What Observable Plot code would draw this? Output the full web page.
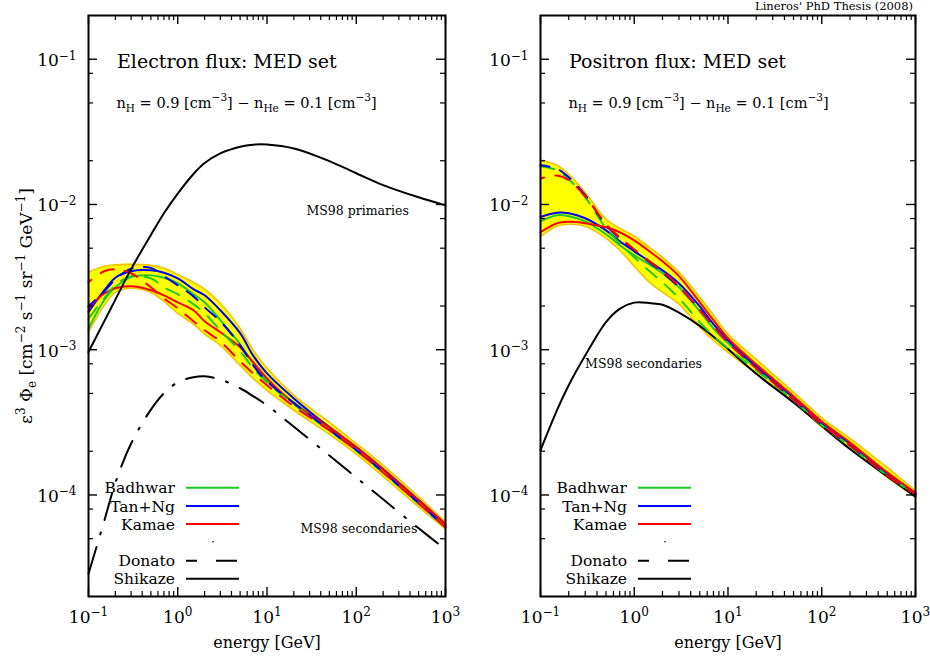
<!DOCTYPE html>
<html><head><meta charset="utf-8">
<script src="https://cdn.jsdelivr.net/npm/d3@7"></script>
<script src="https://cdn.jsdelivr.net/npm/@observablehq/plot@0.6"></script>
<style>
body{margin:0;background:#fff;}
#wrap{position:relative;width:930px;height:657px;font-family:"DejaVu Serif",serif;background:#fff;}
#wrap svg{position:absolute;top:0;}
</style></head><body><div id="wrap"></div>
<script>
// ---------- data (energy grid in GeV, fluxes E^3*Phi) ----------
const energy = [0.1,0.15,0.2,0.3,0.5,0.7,1,1.5,2,3,5,7,10,20,50,100,200,500,1000];

// Electron panel
const eBandHi = [3.41e-3,3.75e-3,3.84e-3,3.87e-3,3.81e-3,3.64e-3,3.30e-3,2.91e-3,2.61e-3,2.09e-3,1.40e-3,9.9e-4,7.45e-4,4.85e-4,3.16e-4,2.26e-4,1.60e-4,9.7e-5,6.53e-5];
const eBandLo = [1.32e-3,2.02e-3,2.48e-3,2.65e-3,2.48e-3,2.15e-3,1.78e-3,1.50e-3,1.28e-3,1.07e-3,7.8e-4,6.35e-4,5.25e-4,3.83e-4,2.61e-4,1.91e-4,1.34e-4,8.28e-5,5.83e-5];
const eBadhwarShikaze = [1.40e-3,2.19e-3,2.69e-3,3.16e-3,3.25e-3,3.13e-3,2.87e-3,2.41e-3,2.12e-3,1.60e-3,1.09e-3,8.05e-4,6.15e-4,4.34e-4,2.89e-4,2.11e-4,1.49e-4,9.1e-5,6.22e-5];
const eTanNgShikaze = [1.82e-3,2.56e-3,3.13e-3,3.47e-3,3.52e-3,3.39e-3,3.10e-3,2.61e-3,2.37e-3,1.87e-3,1.30e-3,9.1e-4,6.87e-4,4.62e-4,2.93e-4,2.14e-4,1.51e-4,9.22e-5,6.3e-5];
const eKamaeShikaze = [1.93e-3,2.44e-3,2.65e-3,2.73e-3,2.57e-3,2.37e-3,2.12e-3,1.87e-3,1.57e-3,1.32e-3,1.04e-3,8.2e-4,6.35e-4,4.28e-4,2.92e-4,2.13e-4,1.50e-4,9.18e-5,6.27e-5];
const eBadhwarDonato = [1.64e-3,2.26e-3,2.78e-3,3.21e-3,3.10e-3,2.69e-3,2.41e-3,2.06e-3,1.78e-3,1.36e-3,9.75e-4,7.45e-4,5.97e-4,4.21e-4,2.77e-4,2.02e-4,1.42e-4,8.7e-5,5.95e-5];
const eTanNgDonato = [1.99e-3,2.52e-3,3.05e-3,3.61e-3,3.66e-3,3.21e-3,2.78e-3,2.33e-3,1.96e-3,1.57e-3,1.07e-3,7.8e-4,6.05e-4,4.28e-4,2.80e-4,2.04e-4,1.44e-4,8.8e-5,6.0e-5];
const eKamaeDonato = [2.92e-3,3.47e-3,3.58e-3,3.36e-3,2.69e-3,2.26e-3,1.93e-3,1.57e-3,1.36e-3,1.14e-3,8.3e-4,6.87e-4,5.69e-4,4.07e-4,2.79e-4,2.03e-4,1.43e-4,8.75e-5,5.98e-5];
const eMS98Primaries = [9.64e-4,1.567e-3,2.213e-3,3.589e-3,6.166e-3,8.71e-3,1.189e-2,1.622e-2,1.928e-2,2.249e-2,2.50e-2,2.582e-2,2.588e-2,2.43e-2,1.99e-2,1.64e-2,1.36e-2,1.12e-2,9.86e-3];
const eMS98Secondaries = [2.87e-5,6.62e-5,1.21e-4,2.26e-4,3.87e-4,5.01e-4,5.96e-4,6.46e-4,6.56e-4,6.24e-4,5.43e-4,4.79e-4,4.14e-4,2.95e-4,1.87e-4,1.32e-4,9.33e-5,5.90e-5,4.22e-5];

// Positron panel
const pBandHi = [2.02e-2,1.86e-2,1.61e-2,1.21e-2,7.91e-3,6.86e-3,6.04e-3,4.99e-3,4.33e-3,3.41e-3,2.30e-3,1.73e-3,1.28e-3,8.59e-4,5.10e-4,3.40e-4,2.45e-4,1.54e-4,1.07e-4];
const pBandLo = [6.04e-3,7.08e-3,7.31e-3,7.08e-3,5.85e-3,4.84e-3,3.75e-3,2.86e-3,2.49e-3,2.06e-3,1.43e-3,1.16e-3,9.60e-4,6.87e-4,4.40e-4,2.94e-4,2.12e-4,1.32e-4,9.65e-5];
const pBadhwarShikaze = [7.66e-3,8.43e-3,8.30e-3,7.66e-3,6.24e-3,5.24e-3,4.47e-3,3.81e-3,3.36e-3,2.69e-3,1.84e-3,1.40e-3,1.11e-3,7.45e-4,4.62e-4,3.11e-4,2.23e-4,1.39e-4,1.01e-4];
const pTanNgShikaze = [8.20e-3,8.77e-3,8.69e-3,8.04e-3,6.64e-3,5.58e-3,4.76e-3,4.00e-3,3.52e-3,2.86e-3,1.99e-3,1.50e-3,1.16e-3,7.68e-4,4.70e-4,3.16e-4,2.26e-4,1.41e-4,1.03e-4];
const pKamaeShikaze = [6.44e-3,7.43e-3,7.60e-3,7.43e-3,6.97e-3,6.44e-3,5.66e-3,4.69e-3,4.06e-3,3.21e-3,2.12e-3,1.60e-3,1.20e-3,7.93e-4,4.78e-4,3.21e-4,2.30e-4,1.43e-4,1.03e-4];
const pBadhwarDonato = [1.83e-2,1.72e-2,1.49e-2,1.12e-2,6.86e-3,5.41e-3,4.33e-3,3.41e-3,2.91e-3,2.26e-3,1.55e-3,1.24e-3,1.02e-3,7.22e-4,4.49e-4,3.01e-4,2.16e-4,1.36e-4,1.01e-4];
const pTanNgDonato = [1.86e-2,1.76e-2,1.54e-2,1.16e-2,7.19e-3,5.85e-3,4.84e-3,3.94e-3,3.41e-3,2.69e-3,1.90e-3,1.47e-3,1.14e-3,7.56e-4,4.52e-4,3.04e-4,2.19e-4,1.36e-4,1.01e-4];
const pKamaeDonato = [1.51e-2,1.58e-2,1.47e-2,1.14e-2,7.31e-3,5.94e-3,4.91e-3,4.00e-3,3.47e-3,2.73e-3,1.87e-3,1.45e-3,1.12e-3,7.45e-4,4.55e-4,3.06e-4,2.20e-4,1.36e-4,1.01e-4];
const pMS98Secondaries = [2.03e-4,3.84e-4,5.70e-4,9.12e-4,1.55e-3,1.91e-3,2.11e-3,2.09e-3,2.04e-3,1.80e-3,1.46e-3,1.23e-3,1.01e-3,6.83e-4,4.33e-4,2.99e-4,2.07e-4,1.34e-4,9.72e-5];

// Axis ticks
const xMajor = [0.1,1,10,100,1000];
const xMinorMult = [2,3,4,5,6,7,8,9];
const yMajor = [1e-4,1e-3,1e-2,1e-1];
const yMinorMult = [2,5,8];

// Legend
const xsecNames = ["Badhwar","Tan+Ng","Kamae"];
const xsecColors = ["#1ec81e","#0000ff","#ff0000"];
const protonNames = ["Donato","Shikaze"];

// Texts
const leftNotes = [{E: 27.7, f: 8.97e-3, label: "MS98 primaries"}, {E: 23.7, f: 5.80e-5, label: "MS98 secondaries"}];
const rightNotes = [{E: 0.299, f: 7.93e-4, label: "MS98 secondaries"}];

// ---------- drawing ----------
const H = 657, MT = 15, MB = 61;
const xMinor = [];
for (const d of [0.1,1,10,100]) for (const m of xMinorMult) xMinor.push(d*m);
const yMinor = [];
for (const d of [1e-5,1e-4,1e-3,1e-2,1e-1]) for (const m of yMinorMult) { const v = d*m; if (v > 2.001e-5 && v < 0.1999) yMinor.push(v); }
const expFmt = d => String(Math.round(Math.log10(d))).replace("-", "\u2212");
const rows = arr => energy.map((E, i) => ({E, f: arr[i]}));

function panel({width, ml, mr, bandHi, bandLo, solids, dashes, ms, msDash, msOnTop, extra, title, notes}) {
  const W = width - ml - mr, PH = H - MT - MB;
  const band = energy.map((E, i) => ({E, lo: bandLo[i], hi: bandHi[i]}));
  const cv = "catmull-rom";
  const msMark = Plot.line(rows(ms), {x: "E", y: "f", stroke: "black", strokeWidth: 2, curve: cv, strokeDasharray: msDash});
  const marks = [
    Plot.areaY(band, {x: "E", y1: "lo", y2: "hi", fill: "#ffff00", curve: cv}),
    Plot.line(band, {x: "E", y: "hi", stroke: "#f0c400", strokeWidth: 1.6, curve: cv}),
    Plot.line(band, {x: "E", y: "lo", stroke: "#f0c400", strokeWidth: 1.6, curve: cv}),
  ];
  if (!msOnTop) marks.push(msMark);
  solids.forEach((arr, i) => marks.push(Plot.line(rows(arr), {x: "E", y: "f", stroke: xsecColors[i], strokeWidth: 2, curve: cv})));
  dashes.forEach((arr, i) => marks.push(Plot.line(rows(arr), {x: "E", y: "f", stroke: xsecColors[i], strokeWidth: 2, curve: cv, strokeDasharray: "14,11", strokeDashoffset: i * 5})));
  if (msOnTop) marks.push(msMark);
  if (extra) marks.push(Plot.line(rows(extra), {x: "E", y: "f", stroke: "black", strokeWidth: 2, curve: cv}));
  marks.push(
    Plot.frame({stroke: "black", strokeWidth: 2}),
    Plot.tickX(xMajor, {x: d => d, insetTop: PH - 9, strokeWidth: 1.4}),
    Plot.tickX(xMajor, {x: d => d, insetBottom: PH - 9, strokeWidth: 1.4}),
    Plot.tickX(xMinor, {x: d => d, insetTop: PH - 5, strokeWidth: 1.2}),
    Plot.tickX(xMinor, {x: d => d, insetBottom: PH - 5, strokeWidth: 1.2}),
    Plot.tickY(yMajor, {y: d => d, insetRight: W - 9, strokeWidth: 1.4}),
    Plot.tickY(yMajor, {y: d => d, insetLeft: W - 9, strokeWidth: 1.4}),
    Plot.tickY(yMinor, {y: d => d, insetRight: W - 5, strokeWidth: 1.2}),
    Plot.tickY(yMinor, {y: d => d, insetLeft: W - 5, strokeWidth: 1.2}),
    Plot.axisX({ticks: xMajor, tickSize: 0, tickPadding: 14, tickFormat: expFmt, fontSize: 17, label: null}),
    Plot.axisY({ticks: yMajor, tickSize: 0, tickPadding: 12, tickFormat: expFmt, fontSize: 17, label: null, dy: 1.5}),
    Plot.text([title], {frameAnchor: "top-left", lineAnchor: "top", dx: 28.5, dy: 38.5, fontSize: 19}),
    Plot.text(notes, {x: "E", y: "f", text: "label", textAnchor: "start", fontSize: 12.5}),
    Plot.text(["energy [GeV]"], {frameAnchor: "bottom", lineAnchor: "top", dy: 40, fontSize: 16})
  );
  const svg = Plot.plot({
    width, height: H, marginLeft: ml, marginRight: mr, marginTop: MT, marginBottom: MB,
    x: {type: "log", domain: [0.1, 1000]},
    y: {type: "log", domain: [2e-5, 0.2]},
    style: {fontFamily: "DejaVu Serif", background: "transparent", color: "black"},
    marks
  });
  const s = d3.select(svg);
  // exponent formatting of tick labels
  s.selectAll('g[aria-label="x-axis tick label"] text, g[aria-label="y-axis tick label"] text').each(function() {
    const e = this.textContent; this.textContent = "";
    const t = d3.select(this);
    t.append("tspan").text("10");
    t.append("tspan").attr("dy", "-0.55em").attr("font-size", "12px").text(e);
  });
  // subtitle with sub/superscripts
  const sub = s.append("text").attr("x", ml + 28.5).attr("y", 107.5).attr("font-size", 14.5).attr("text-anchor", "start").attr("fill", "black");
  const seg = (txt, kind) => {
    const ts = sub.append("tspan").text(txt);
    if (kind === "sub") ts.attr("font-size", 10.5).attr("dy", 4);
    else if (kind === "sup") ts.attr("font-size", 10.5).attr("dy", -6.5);
    return ts;
  };
  seg("n"); seg("H", "sub"); seg(" = 0.9 [cm").attr("dy", -4); seg("\u22123", "sup"); seg("] \u2212 n").attr("dy", 6.5);
  seg("He", "sub"); seg(" = 0.1 [cm").attr("dy", -4); seg("\u22123", "sup"); seg("]").attr("dy", 6.5);
  // legend
  const lg = s.append("g").attr("font-size", 15.5).attr("fill", "black");
  const tx = ml + 87, l0 = ml + 98, l1 = ml + 151;
  const ys = [487.7, 506, 524];
  xsecNames.forEach((n, i) => {
    lg.append("text").attr("x", tx).attr("y", ys[i] + 5.5).attr("text-anchor", "end").text(n);
    lg.append("line").attr("x1", l0).attr("x2", l1).attr("y1", ys[i]).attr("y2", ys[i]).attr("stroke", xsecColors[i]).attr("stroke-width", 2);
  });
  lg.append("circle").attr("cx", ml + 125).attr("cy", 541.7).attr("r", 0.8).attr("fill", "black");
  const ys2 = [560.7, 578.7];
  protonNames.forEach((n, i) => {
    lg.append("text").attr("x", tx).attr("y", ys2[i] + 5.5).attr("text-anchor", "end").text(n);
    const ln = lg.append("line").attr("x1", l0).attr("x2", l1).attr("y1", ys2[i]).attr("y2", ys2[i]).attr("stroke", "black").attr("stroke-width", 2);
    if (i === 0) ln.attr("stroke-dasharray", "21,19").attr("stroke-dashoffset", 10);
  });
  return svg;
}

const wrap = document.getElementById("wrap");
const left = panel({
  width: 465, ml: 88, mr: 20, bandHi: eBandHi, bandLo: eBandLo,
  solids: [eBadhwarShikaze, eTanNgShikaze, eKamaeShikaze],
  dashes: [eBadhwarDonato, eTanNgDonato, eKamaeDonato],
  ms: eMS98Secondaries, msDash: "28,13,2,13", msOnTop: true, extra: eMS98Primaries,
  title: "Electron flux: MED set", notes: leftNotes
});
left.style.left = "0px";
wrap.appendChild(left);

const right = panel({
  width: 465, ml: 75, mr: 15, bandHi: pBandHi, bandLo: pBandLo,
  solids: [pBadhwarShikaze, pTanNgShikaze, pKamaeShikaze],
  dashes: [pBadhwarDonato, pTanNgDonato, pKamaeDonato],
  ms: pMS98Secondaries, msDash: null, msOnTop: false, extra: null,
  title: "Positron flux: MED set", notes: rightNotes
});
right.style.left = "465px";
wrap.appendChild(right);

// y-axis title (left panel)
const ls = d3.select(left);
const yt = ls.append("text").attr("transform", "translate(32,306) rotate(-90)").attr("text-anchor", "middle").attr("font-size", 17).attr("fill", "black");
const yseg = (txt, kind) => {
  const ts = yt.append("tspan").text(txt);
  if (kind === "sup") ts.attr("font-size", 12).attr("dy", -7);
  if (kind === "sub") ts.attr("font-size", 12).attr("dy", 4);
  return ts;
};
yseg("\u03b5"); yseg("3", "sup"); yseg(" \u03a6").attr("dy", 7); yseg("e", "sub"); yseg(" [cm").attr("dy", -4);
yseg("\u22122", "sup"); yseg(" s").attr("dy", 7); yseg("\u22121", "sup"); yseg(" sr").attr("dy", 7); yseg("\u22121", "sup");
yseg(" GeV").attr("dy", 7); yseg("\u22121", "sup"); yseg("]").attr("dy", 7);

// credit
d3.select(right).append("text").attr("x", 448).attr("y", 9.5).attr("text-anchor", "end").attr("font-size", 11.5).attr("fill", "black").text("Lineros' PhD Thesis (2008)");
</script></body></html>
